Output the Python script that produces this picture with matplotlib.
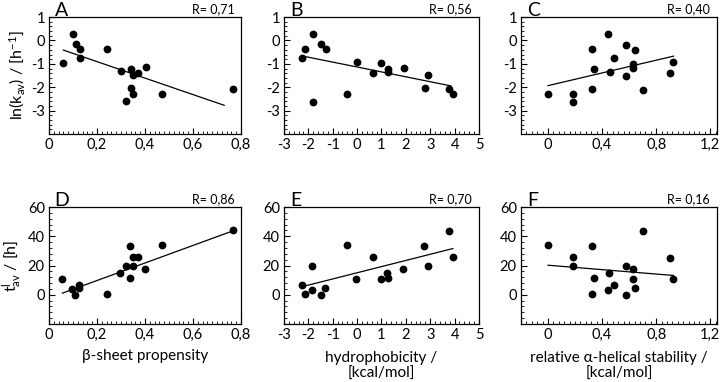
import matplotlib
matplotlib.use('Agg')
import matplotlib.pyplot as plt
from matplotlib.ticker import FuncFormatter, MultipleLocator

plt.rcParams['font.family'] = ['Lato', 'DejaVu Sans']
plt.rcParams['axes.unicode_minus'] = False
plt.rcParams['mathtext.fontset'] = 'custom'
plt.rcParams['mathtext.rm'] = 'Lato'
plt.rcParams['mathtext.it'] = 'Lato'

# panel A: beta-sheet propensity vs ln(k_av)
a_x = [0.06, 0.099, 0.113, 0.131, 0.131, 0.243, 0.30, 0.342, 0.352, 0.373,
       0.403, 0.342, 0.352, 0.323, 0.473, 0.767]
a_y = [-0.97, 0.29, -0.16, -0.36, -0.73, -0.36, -1.31, -1.2, -1.49, -1.40,
       -1.14, -2.04, -2.29, -2.6, -2.27, -2.06]
a_fit_x = [0.06, 0.73]
a_fit_y = [-0.41, -2.77]

# panel B: hydrophobicity vs ln(k_av)
b_x = [-2.26, -2.13, -1.82, -1.48, -1.27, -1.82, -0.40, -0.01, 0.66, 1.0,
       1.27, 1.27, 1.93, 2.78, 2.91, 3.78, 3.94]
b_y = [-0.74, -0.36, 0.27, -0.17, -0.37, -2.61, -2.30, -0.90, -1.40, -0.97,
       -1.23, -1.33, -1.17, -2.04, -1.49, -2.07, -2.30]
b_fit_x = [-2.26, 3.85]
b_fit_y = [-0.66, -1.94]

# panel C: relative alpha-helical stability vs ln(k_av)
c_x = [0.0, 0.184, 0.184, 0.326, 0.343, 0.326, 0.444, 0.459, 0.489, 0.578,
       0.578, 0.647, 0.63, 0.63, 0.699, 0.906, 0.928]
c_y = [-2.30, -2.30, -2.63, -0.37, -1.23, -2.06, 0.26, -1.34, -0.76, -0.19,
       -1.5, -0.39, -1.01, -1.19, -2.1, -1.41, -0.91]
c_fit_x = [0.0, 0.928]
c_fit_y = [-1.93, -0.67]

# panel D: beta-sheet propensity vs t_av
d_x = [0.056, 0.095, 0.109, 0.127, 0.127, 0.241, 0.296, 0.319, 0.339, 0.339,
       0.349, 0.349, 0.370, 0.399, 0.472, 0.765]
d_y = [10.9, 3.6, -0.2, 7.0, 4.5, 0.5, 15.2, 20.0, 33.4, 11.8,
       25.9, 20.0, 25.5, 17.5, 33.9, 44.3]
d_fit_x = [0.056, 0.755]
d_fit_y = [1.1, 43.0]

# panel E: hydrophobicity vs t_av
e_x = [-2.28, -2.15, -1.85, -1.85, -1.49, -1.30, -0.41, -0.04, 0.64, 0.98,
       1.23, 1.26, 1.90, 2.75, 2.89, 3.76, 3.93]
e_y = [6.6, 0.5, 19.8, 3.2, -0.2, 4.5, 33.9, 10.9, 25.5, 10.9,
       15.2, 11.8, 17.3, 33.4, 19.8, 43.9, 25.7]
e_fit_x = [-2.26, 3.93]
e_fit_y = [5.5, 31.6]

# panel F: relative alpha-helical stability vs t_av
f_x = [0.0, 0.184, 0.184, 0.326, 0.343, 0.326, 0.454, 0.442, 0.489, 0.578,
       0.578, 0.699, 0.63, 0.63, 0.647, 0.906, 0.928]
f_y = [33.9, 25.7, 19.8, 33.4, 11.6, 0.2, 15.2, 3.2, 6.6, 19.8,
       -0.5, 43.9, 17.3, 10.9, 4.5, 25.2, 10.9]
f_fit_x = [0.0, 0.928]
f_fit_y = [20.2, 13.2]

letters = ['A', 'B', 'C', 'D', 'E', 'F']
r_labels = ['R= 0,71', 'R= 0,56', 'R= 0,40', 'R= 0,86', 'R= 0,70', 'R= 0,16']

fig = plt.figure(figsize=(7.2, 3.82), dpi=100)

lefts = [0.068, 0.3944, 0.7236]
widths = [0.2667, 0.2708, 0.2722]
bottoms = [0.649, 0.1518]
h = 0.3063

xlims = [(0, 0.8), (-3, 5), (-0.2, 1.25)]
xmaj = [0.2, 1, 0.4]
xmin = [0.02, 0.2, 0.04]

def comma(v, pos):
    if abs(v) < 1e-9:
        return '0'
    if abs(v - round(v)) < 1e-9:
        return '%d' % round(v)
    return ('%.1f' % v).replace('.', ',')

panels = [(a_x, a_y, a_fit_x, a_fit_y), (b_x, b_y, b_fit_x, b_fit_y),
          (c_x, c_y, c_fit_x, c_fit_y), (d_x, d_y, d_fit_x, d_fit_y),
          (e_x, e_y, e_fit_x, e_fit_y), (f_x, f_y, f_fit_x, f_fit_y)]

for i, (px, py, fx, fy) in enumerate(panels):
    row, col = divmod(i, 3)
    ax = fig.add_axes([lefts[col], bottoms[row], widths[col], h])
    ax.plot(px, py, 'o', color='black', markersize=4.6, zorder=3)
    ax.plot(fx, fy, '-', color='black', linewidth=0.9)
    ax.set_xlim(*xlims[col])
    ax.xaxis.set_major_locator(MultipleLocator(xmaj[col]))
    ax.xaxis.set_minor_locator(MultipleLocator(xmin[col]))
    ax.xaxis.set_major_formatter(FuncFormatter(comma))
    if row == 0:
        ax.set_ylim(-4, 1)
        ax.set_yticks([-3, -2, -1, 0, 1])
        ax.yaxis.set_minor_locator(MultipleLocator(0.2))
    else:
        ax.set_ylim(-20, 60)
        ax.set_yticks([0, 20, 40, 60])
        ax.yaxis.set_minor_locator(MultipleLocator(4))
    ax.tick_params(which='both', direction='in', top=False, right=False,
                   labelsize=10.5, pad=3)
    ax.tick_params(which='major', length=4, width=0.8)
    ax.tick_params(which='minor', length=2, width=0.6)
    for s in ax.spines.values():
        s.set_linewidth(0.9)
    ax.text(0.03, 1.005, letters[i], transform=ax.transAxes, fontsize=14,
            ha='left', va='baseline')
    ax.text(0.965, 1.02, r_labels[i], transform=ax.transAxes, fontsize=9,
            ha='right', va='bottom')
    if i == 0:
        ax.set_ylabel(r'ln(k$_{\mathregular{av}}$) / [h$^{\mathregular{-1}}$]',
                      fontsize=11.5, labelpad=3)
    if i == 3:
        ax.set_ylabel(r'$\mathregular{t^{l}_{av}}$ / [h]', fontsize=11.5, labelpad=3)
        ax.set_xlabel('β-sheet propensity', fontsize=11, labelpad=5)
    if i == 4:
        ax.set_xlabel('hydrophobicity /\n[kcal/mol]', fontsize=11, labelpad=6,
                      linespacing=1.25)
    if i == 5:
        ax.set_xlabel('relative α-helical stability /\n[kcal/mol]', fontsize=11,
                      labelpad=6, linespacing=1.25)

fig.savefig('out.png', dpi=100)
